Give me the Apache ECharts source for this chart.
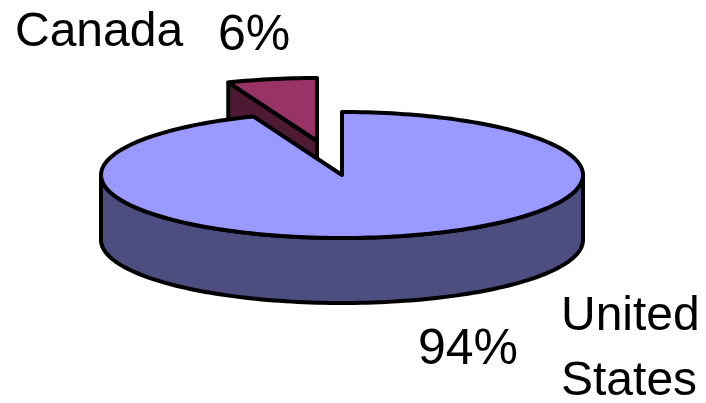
<!DOCTYPE html>
<html><head><meta charset="utf-8">
<style>html,body{margin:0;padding:0;background:#fff}#c{width:706px;height:403px}</style>
<script src="https://cdn.jsdelivr.net/npm/echarts@6/dist/echarts.min.js"></script>
</head><body><div id="c"></div>
<script>
const categories = ['United States', 'Canada'];
const categoryLabels = ['United\nStates', 'Canada'];
const shares = [94, 6];
const faceColors = ['#9999ff', '#993366'];
const sideColors = ['#4d4d80', '#4d1933'];

const C = {cx: 342, cy: 175, rx: 241, ry: 63, depth: 65, lw: 4};
const explode = [[0, 0], [-25, -34]];
const valuePos = [[418, 318], [218, 4]];
const namePos = [[561, 284], [15, 0]];
const FONT = 'Liberation Sans, Arial, sans-serif';
const total = shares.reduce((a, b) => a + b, 0);

function pt(c, deg, r) {
  const t = deg * Math.PI / 180;
  return [c[0] + C.rx * r * Math.sin(t), c[1] - C.ry * r * Math.cos(t)];
}
function arc(c, from, to) {
  const pts = [], n = Math.max(2, Math.ceil(Math.abs(to - from) / 1.5));
  for (let i = 0; i <= n; i++) pts.push(pt(c, from + (to - from) * i / n, 1));
  return pts;
}
const black = (fill) => ({fill, stroke: '#000', lineWidth: C.lw, lineJoin: 'round'});

function renderItem(params, api) {
  const i = params.dataIndex;
  const share = api.value(1);
  let before = 0;
  for (let k = 0; k < i; k++) before += shares[k];
  const a0 = before / total * 360, a1 = (before + share) / total * 360;
  const c = [C.cx + explode[i][0], C.cy + explode[i][1]];
  const down = (p) => [p[0], p[1] + C.depth];
  const z2 = i === 0 ? 20 : 5;
  const kids = [];
  const f0 = Math.max(a0, 90), f1 = Math.min(a1, 270);
  if (f1 > f0) {
    const rim = arc(c, f0, f1);
    kids.push({type: 'polygon', z2, shape: {points: rim.concat(rim.slice().reverse().map(down))}, style: black(sideColors[i])});
  } else {
    const p = pt(c, a0, 1);
    kids.push({type: 'polygon', z2, shape: {points: [p, c, down(c), down(p)]}, style: black(sideColors[i])});
  }
  kids.push({type: 'polygon', z2: z2 + 1, shape: {points: [c].concat(arc(c, a0, a1))}, style: black(faceColors[i])});
  const base = {fill: '#000', align: 'left', verticalAlign: 'top', lineHeight: 65};
  kids.push({type: 'text', z2: 30, x: valuePos[i][0], y: valuePos[i][1], style: Object.assign({text: share + '%', font: '50px ' + FONT}, base)});
  kids.push({type: 'text', z2: 30, x: namePos[i][0], y: namePos[i][1], style: Object.assign({text: categoryLabels[i], font: '48px ' + FONT}, base)});
  return {type: 'group', children: kids};
}

const chart = echarts.init(document.getElementById('c'), null, {renderer: 'canvas'});
chart.setOption({
  animation: false,
  backgroundColor: '#fff',
  series: [{
    type: 'custom',
    coordinateSystem: 'none',
    renderItem,
    silent: true,
    data: categories.map((n, i) => ({name: n, value: [i, shares[i]]}))
  }]
});
</script></body></html>
